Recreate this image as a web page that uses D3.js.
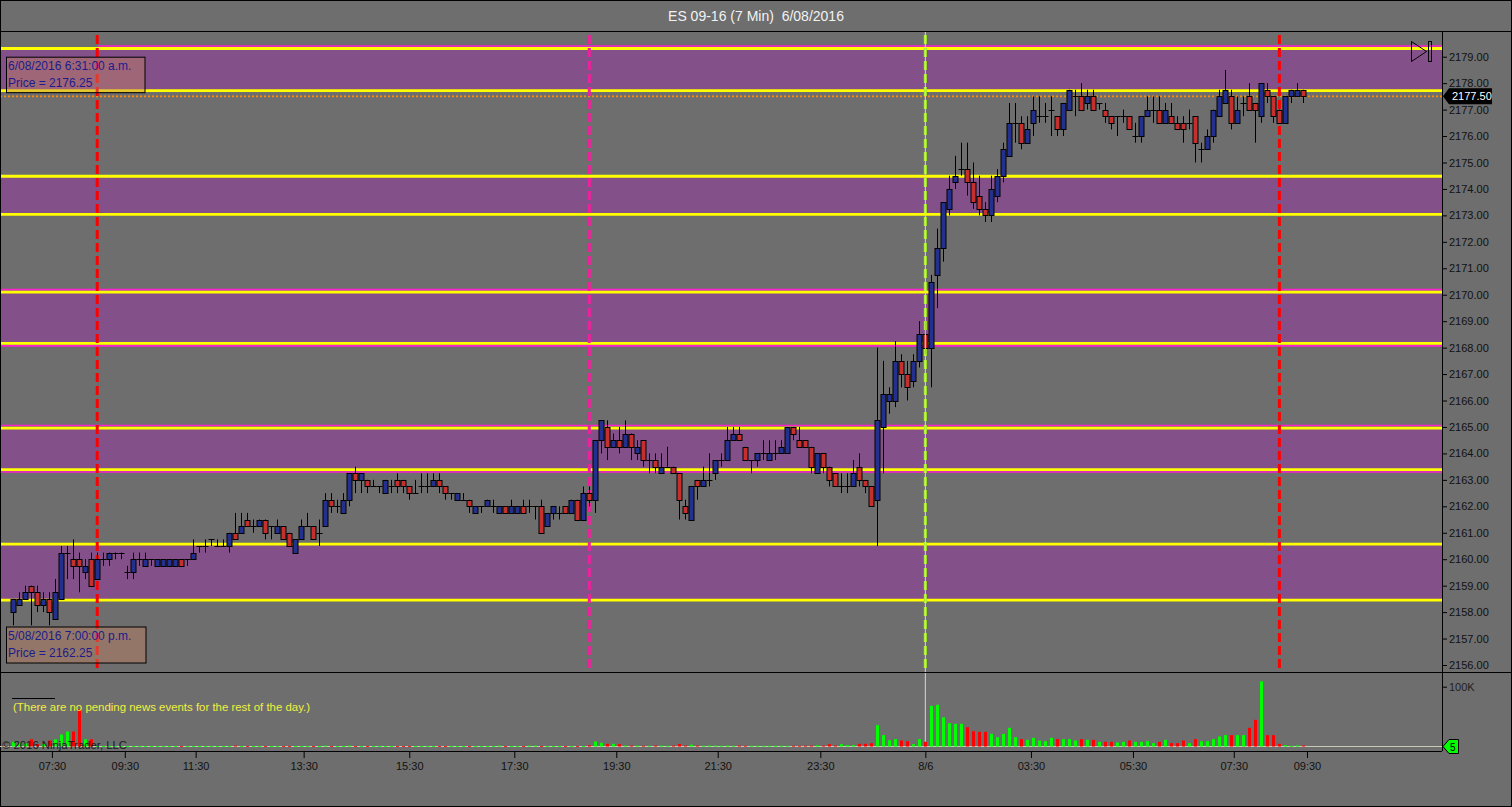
<!DOCTYPE html>
<html><head><meta charset="utf-8">
<script src="https://cdn.jsdelivr.net/npm/d3@7"></script>
<style>html,body{margin:0;padding:0;background:#6e6e6e;overflow:hidden}svg{display:block}</style>
</head><body>
<script>
// ---------------- DATA ----------------
const title = "ES 09-16 (7 Min)  6/08/2016";
// [open, high, low, close] per 7-min bar
const ohlc = [
[2158.0,2158.5,2157.5,2158.5],[2158.25,2158.75,2158.25,2158.5],[2158.5,2159.0,2158.5,2158.75],[2159.0,2159.0,2157.5,2158.75],
[2158.75,2159.0,2158.0,2158.25],[2158.25,2158.75,2158.0,2158.5],[2158.5,2158.75,2157.5,2158.0],[2157.75,2159.25,2157.75,2158.75],
[2158.5,2160.5,2158.5,2160.25],[2160.25,2160.5,2159.25,2160.25],[2160.0,2160.75,2159.25,2159.75],[2160.0,2160.25,2158.75,2159.75],
[2159.5,2160.0,2159.25,2159.75],[2160.0,2160.25,2159.0,2159.0],[2159.25,2160.25,2159.25,2160.0],[2160.0,2160.25,2159.75,2160.0],
[2160.0,2160.25,2159.75,2160.25],[2160.25,2160.25,2160.0,2160.25],[2160.25,2160.25,2160.0,2160.25],[2159.5,2159.75,2159.25,2159.5],
[2159.5,2160.25,2159.25,2160.0],[2160.0,2160.25,2159.75,2160.0],[2159.75,2160.25,2159.75,2160.0],[2160.0,2160.0,2159.75,2160.0],
[2159.75,2160.0,2159.75,2160.0],[2159.75,2160.0,2159.75,2160.0],[2159.75,2160.0,2159.75,2160.0],[2159.75,2160.0,2159.75,2160.0],
[2160.0,2160.0,2159.75,2159.75],[2160.0,2160.0,2159.75,2160.0],[2160.0,2160.75,2160.0,2160.25],[2160.5,2160.5,2160.25,2160.5],
[2160.5,2160.75,2160.25,2160.5],[2160.75,2160.75,2160.5,2160.75],[2160.5,2160.75,2160.5,2160.5],[2160.5,2160.75,2160.5,2160.5],
[2160.5,2161.0,2160.25,2161.0],[2161.0,2161.75,2160.75,2160.75],[2161.0,2161.75,2161.0,2161.25],[2161.5,2161.75,2161.25,2161.25],
[2161.25,2161.5,2161.0,2161.25],[2161.25,2161.5,2161.25,2161.5],[2161.5,2161.5,2160.75,2161.0],[2161.25,2161.25,2160.75,2161.25],
[2161.0,2161.5,2161.0,2161.25],[2161.25,2161.25,2160.75,2160.75],[2161.0,2161.0,2160.5,2160.5],[2160.25,2160.75,2160.25,2160.75],
[2160.75,2161.5,2160.75,2161.25],[2161.25,2161.75,2161.25,2161.25],[2161.25,2161.25,2160.75,2160.75],[2161.0,2161.5,2160.5,2161.0],
[2161.25,2162.5,2161.25,2162.25],[2162.25,2162.5,2161.75,2162.0],[2162.0,2162.25,2161.75,2162.0],[2161.75,2162.5,2161.75,2162.25],
[2162.25,2163.25,2162.0,2163.25],[2163.25,2163.5,2162.5,2163.0],[2163.0,2163.25,2162.5,2163.25],[2163.0,2163.0,2162.5,2162.75],
[2162.75,2163.0,2162.75,2162.75],[2162.75,2162.75,2162.5,2162.75],[2162.5,2163.0,2162.5,2163.0],[2162.75,2163.0,2162.5,2162.75],
[2163.0,2163.25,2162.5,2162.75],[2163.0,2163.0,2162.5,2162.75],[2162.75,2162.75,2162.25,2162.5],[2162.5,2163.0,2162.5,2162.5],
[2162.75,2163.25,2162.5,2162.75],[2162.75,2163.25,2162.5,2162.75],[2162.75,2163.25,2162.75,2163.0],[2163.0,2163.25,2162.5,2162.75],
[2162.75,2162.75,2162.25,2162.5],[2162.5,2162.5,2162.25,2162.5],[2162.25,2162.5,2162.25,2162.5],[2162.25,2162.5,2162.25,2162.25],
[2162.25,2162.25,2161.75,2162.0],[2161.75,2162.0,2161.75,2162.0],[2162.0,2162.0,2161.75,2162.0],[2162.0,2162.25,2162.0,2162.25],
[2162.0,2162.25,2161.75,2162.0],[2161.75,2162.0,2161.75,2162.0],[2162.0,2162.0,2161.75,2161.75],[2161.75,2162.25,2161.75,2162.0],
[2161.75,2162.0,2161.75,2162.0],[2162.0,2162.25,2161.75,2161.75],[2162.0,2162.25,2161.75,2162.0],[2162.0,2162.0,2161.5,2162.0],
[2162.0,2162.25,2161.0,2161.0],[2161.25,2161.75,2161.25,2161.75],[2161.75,2162.0,2161.5,2162.0],[2161.75,2162.0,2161.5,2161.75],
[2162.0,2162.0,2161.75,2161.75],[2161.75,2162.25,2161.75,2162.25],[2162.25,2162.25,2161.5,2161.5],[2161.5,2162.75,2161.5,2162.5],
[2162.5,2162.75,2162.0,2162.25],[2162.25,2164.5,2161.75,2164.5],[2164.5,2165.25,2164.0,2165.25],[2165.0,2165.25,2163.75,2164.25],
[2164.25,2164.75,2164.25,2164.5],[2164.5,2165.0,2164.0,2164.25],[2164.25,2165.25,2164.25,2164.75],[2164.75,2164.75,2163.75,2164.25],
[2164.0,2164.5,2163.75,2164.25],[2164.5,2164.5,2163.5,2163.75],[2163.75,2164.0,2163.25,2163.75],[2163.75,2164.0,2163.25,2163.5],
[2163.25,2164.0,2163.25,2163.5],[2163.5,2164.25,2163.5,2163.5],[2163.5,2163.5,2163.25,2163.25],[2163.25,2163.25,2161.5,2162.25],
[2162.0,2162.25,2161.5,2161.75],[2161.5,2162.75,2161.5,2162.75],[2163.0,2163.0,2162.25,2162.75],[2162.75,2163.5,2162.75,2163.0],
[2163.0,2164.0,2162.75,2163.0],[2163.25,2163.75,2163.0,2163.75],[2163.75,2164.0,2163.5,2163.75],[2163.75,2165.0,2163.75,2164.5],
[2164.5,2165.0,2164.5,2164.75],[2164.75,2165.0,2164.5,2164.5],[2164.25,2164.25,2163.75,2163.75],[2163.75,2163.75,2163.25,2163.75],
[2163.75,2164.0,2163.5,2164.0],[2164.0,2164.5,2163.75,2164.0],[2163.75,2164.5,2163.75,2164.0],[2164.0,2164.5,2163.75,2164.0],
[2164.0,2164.5,2164.0,2164.25],[2164.0,2165.0,2164.0,2165.0],[2165.0,2165.0,2164.5,2164.75],[2164.5,2165.0,2164.25,2164.25],
[2164.5,2164.5,2164.25,2164.25],[2164.25,2164.25,2163.25,2163.5],[2163.25,2164.0,2163.25,2164.0],[2164.0,2164.0,2163.25,2163.5],
[2163.5,2163.5,2162.75,2163.0],[2163.25,2163.25,2162.75,2162.75],[2162.75,2163.25,2162.5,2162.75],[2162.75,2163.25,2162.5,2162.75],
[2162.75,2163.75,2162.75,2163.25],[2163.5,2164.0,2162.75,2163.0],[2163.0,2163.0,2162.5,2162.75],[2162.75,2162.75,2162.0,2162.0],
[2162.25,2168.0,2160.5,2165.25],[2165.0,2167.5,2163.25,2166.25],[2166.0,2166.5,2165.5,2166.25],[2166.0,2168.25,2165.75,2167.5],
[2167.5,2167.75,2166.5,2167.0],[2167.0,2167.5,2166.0,2166.5],[2166.75,2167.75,2166.5,2167.5],[2167.5,2169.0,2167.25,2168.5],
[2168.5,2169.0,2167.75,2168.0],[2168.0,2170.75,2166.5,2170.5],[2170.75,2172.5,2169.5,2171.75],[2171.75,2173.5,2171.25,2173.5],
[2173.25,2174.5,2173.0,2174.0],[2174.25,2175.25,2174.0,2174.5],[2174.75,2175.75,2174.5,2174.75],[2174.75,2175.75,2173.75,2174.25],
[2174.25,2175.0,2173.25,2173.5],[2173.75,2174.5,2173.0,2173.25],[2173.25,2173.5,2172.75,2173.0],[2173.0,2174.5,2172.75,2174.0],
[2173.75,2174.75,2173.5,2174.5],[2174.5,2175.75,2174.25,2175.5],[2175.25,2177.25,2175.25,2176.5],[2176.5,2177.25,2175.75,2176.5],
[2176.5,2176.75,2175.5,2175.75],[2175.75,2176.75,2175.75,2176.25],[2176.5,2177.5,2176.0,2177.0],[2176.75,2177.5,2176.5,2176.75],
[2176.75,2177.25,2176.5,2176.75],[2177.0,2177.5,2176.0,2177.0],[2176.75,2176.75,2176.0,2176.25],[2176.25,2177.25,2176.0,2177.25],
[2177.0,2177.75,2177.0,2177.75],[2177.5,2177.75,2176.75,2177.5],[2177.5,2178.0,2177.0,2177.0],[2177.25,2177.75,2177.0,2177.5],
[2177.5,2177.75,2177.0,2177.0],[2177.25,2177.25,2177.0,2177.25],[2177.0,2177.25,2176.5,2176.75],[2176.75,2176.75,2176.25,2176.5],
[2176.75,2176.75,2176.0,2176.75],[2176.75,2177.0,2176.5,2176.75],[2176.75,2176.75,2176.25,2176.25],[2176.0,2176.5,2175.75,2176.0],
[2176.0,2176.75,2175.75,2176.75],[2176.75,2177.5,2176.75,2177.0],[2177.0,2177.5,2176.5,2177.0],[2177.0,2177.5,2176.5,2176.5],
[2176.5,2177.25,2176.5,2177.0],[2176.75,2177.25,2176.5,2176.5],[2176.5,2176.75,2176.25,2176.25],[2176.5,2176.75,2175.75,2176.25],
[2176.5,2177.0,2176.25,2176.5],[2176.75,2176.75,2175.0,2175.75],[2175.5,2175.75,2175.0,2175.5],[2175.5,2176.25,2175.5,2176.0],
[2176.0,2177.0,2175.75,2177.0],[2176.75,2177.75,2176.75,2177.5],[2177.25,2178.5,2177.25,2177.75],[2177.5,2177.75,2176.25,2176.5],
[2176.5,2177.5,2176.5,2177.0],[2177.25,2177.5,2176.75,2177.25],[2177.5,2178.0,2177.0,2177.0],[2177.25,2177.25,2175.75,2177.0],
[2176.75,2178.0,2176.5,2178.0],[2177.75,2178.0,2177.25,2177.5],[2177.5,2177.5,2176.5,2176.75],[2177.0,2177.0,2176.5,2176.5],
[2176.5,2177.5,2176.5,2177.5],[2177.5,2177.75,2177.25,2177.75],[2177.5,2178.0,2177.5,2177.75],[2177.75,2177.75,2177.25,2177.5]
];
// volume per bar, thousands of contracts
const volumes = [
8,6,5,12,4,4,10,12,20,25,25,62,12,12,
0.6,0.6,0.6,0.6,0.6,0.6,0.6,0.6,0.6,0.6,0.6,0.6,0.6,0.6,0.6,0.6,
0.6,0.6,0.6,0.6,0.6,0.6,0.6,1.5,0.6,0.6,0.6,0.6,0.6,0.6,0.6,0.6,
0.6,0.6,0.6,0.6,0.6,0.6,1.5,0.6,0.6,0.6,1.5,0.6,0.6,0.6,0.6,0.6,
0.6,0.6,0.6,0.6,0.6,0.6,0.6,0.6,0.6,0.6,0.6,0.6,0.6,0.6,0.6,0.6,
0.6,0.6,0.6,1.5,0.6,0.6,0.6,0.6,1.5,1.5,0.6,0.6,0.6,0.6,0.6,0.6,
0.6,0.6,
2,8.4,6,4.5,4.5,3.9,1.5,1.5,1.5,1.2,1.2,1.5,1.5,1.2,1.5,4,
1.5,3,1.5,1.2,1.5,1.5,1.2,1.5,1.2,1.5,1.2,1.2,1.2,1.2,1.2,1.2,
1.2,1.2,1.2,1.2,1.2,1.5,2,1.5,3.9,1.5,3.9,2.2,2.2,4.5,4.5,5.6,
35.7,19,10.6,12.3,10,8.9,3.9,12.3,7.8,68,69.7,49,39,38,38,32.3,
25.6,24.5,24.5,21.2,15.6,21.2,31.2,15.6,12.3,11.1,14.5,10,8.9,14.5,12.3,12.3,
12.3,10,12.3,11.1,11.1,7.8,7.8,7.8,6.7,7.8,10,7.8,7.8,8.9,5.6,7.8,
11.1,5.6,5.6,10,5.6,12.3,8.9,8.9,12.3,16.7,19,19,19,19,31.2,44.6,
109,19,19,4.5,2.2,1,1.7,1.7
];
const priceTicks = d3.range(2156, 2180, 1);
const timeTickLabels = ["07:30","09:30","11:30","13:30","15:30","17:30","19:30","21:30","23:30","8/6","03:30","05:30","07:30","09:30"];
const timeTickBars   = [6.45,18.6,30.4,48.4,66.0,83.5,100.5,117.4,134.5,152,169.6,186.6,203.4,215.6];
// zones [top price, bottom price]
const zoneTops    = [2179.31, 2174.48, 2170.10, 2164.96, 2160.57];
const zoneBottoms = [2177.72, 2173.04, 2168.16, 2163.39, 2158.45];
const zoneMagenta = [true, false, true, true, false];
const lastPrice = 2177.50;
const markerBars   = [14, 96, 152, 211];
const markerColors = ["#ff0000", "#f0209c", "#a6f020", "#ff0000"];
const noteLine1 = ["6/08/2016 6:31:00 a.m.", "5/08/2016 7:00:00 p.m."];
const noteLine2 = ["Price = 2176.25", "Price = 2162.25"];
const newsText = "(There are no pending news events for the rest of the day.)";
const copyright = "\u00A9 2016 NinjaTrader, LLC";

// ---------------- LAYOUT ----------------
const W = 1512, H = 807;
const plotR = 1442, priceTop = 32, priceBot = 672, volBot = 751;
const x = d3.scaleLinear().domain([-2.2, 238.1]).range([0, plotR]);
const y = d3.scaleLinear().domain([2156, 2179]).range([665, 56.7]);
const yv = d3.scaleLinear().domain([0, 100]).range([746.5, 686.7]);
const FONT = "'Liberation Sans', Arial, sans-serif";

const svg = d3.select("body").append("svg").attr("width", W).attr("height", H)
  .style("font-family", FONT);
svg.append("rect").attr("width", W).attr("height", H).attr("fill", "#6e6e6e");

svg.append("defs").append("clipPath").attr("id", "pclip")
  .append("rect").attr("x", 0).attr("y", priceTop).attr("width", plotR).attr("height", priceBot - priceTop);

// title
svg.append("text").attr("x", 756).attr("y", 21).attr("text-anchor", "middle")
  .attr("fill", "#f2f2f2").attr("font-size", 14).attr("xml:space","preserve").text(title);

const pg = svg.append("g").attr("clip-path", "url(#pclip)");

// zones
zoneTops.forEach((t, k) => {
  const b = zoneBottoms[k];
  pg.append("rect").attr("x", 0).attr("width", plotR).attr("y", y(t)).attr("height", y(b) - y(t)).attr("fill", "#83508a");
  if (zoneMagenta[k]) {
    const x0 = k === 0 ? x(markerBars[0]) : 0;
    pg.append("line").attr("x1", x0).attr("x2", plotR).attr("y1", y(t) - 2.5).attr("y2", y(t) - 2.5).attr("stroke", "#ff20d0").attr("stroke-width", 1.6);
    if (k !== 0) pg.append("line").attr("x1", 0).attr("x2", plotR).attr("y1", y(b) + 2.5).attr("y2", y(b) + 2.5).attr("stroke", "#ff20d0").attr("stroke-width", 1.6);
  }
  [t, b].forEach(p => pg.append("line").attr("x1", 0).attr("x2", plotR).attr("y1", y(p)).attr("y2", y(p))
    .attr("stroke", "#ffff00").attr("stroke-width", 2.8));
});

// last price dotted line
pg.append("line").attr("x1", 0).attr("x2", plotR).attr("y1", y(lastPrice)).attr("y2", y(lastPrice))
  .attr("stroke", "#ff8c00").attr("stroke-width", 1.6).attr("stroke-dasharray", "2,2");

// light day-break line
svg.append("line").attr("x1", x(markerBars[2])).attr("x2", x(markerBars[2])).attr("y1", priceTop).attr("y2", 746)
  .attr("stroke", "#d8d8d8").attr("stroke-width", 1);

// vertical dashed markers
markerBars.forEach((b, k) => {
  pg.append("line").attr("x1", x(b)).attr("x2", x(b)).attr("y1", 35).attr("y2", 668)
    .attr("stroke", markerColors[k]).attr("stroke-width", 3).attr("stroke-dasharray", "9,4");
});

// candles
const cg = pg.append("g");
ohlc.forEach((d, i) => {
  const [o, h, l, c] = d;
  const cx = Math.round(x(i)) + 0.5;
  cg.append("line").attr("x1", cx).attr("x2", cx).attr("y1", y(h)).attr("y2", y(l)).attr("stroke", "#000").attr("stroke-width", 1);
  if (o === c) {
    cg.append("line").attr("x1", cx - 3).attr("x2", cx + 3).attr("y1", Math.round(y(o)) + 0.5).attr("y2", Math.round(y(o)) + 0.5)
      .attr("stroke", "#000").attr("stroke-width", 1);
  } else {
    const top = Math.round(y(Math.max(o, c))), bot = Math.round(y(Math.min(o, c)));
    cg.append("rect").attr("x", cx - 2.5).attr("y", top + 0.5).attr("width", 5).attr("height", Math.max(1, bot - top))
      .attr("fill", c > o ? "#24308e" : "#c4302e").attr("stroke", "#000").attr("stroke-width", 1);
  }
});

// notes boxes
const noteBoxes = [{x: 6, y: 56.7, w: 138.5, h: 35.5}, {x: 6, y: 626.5, w: 139.5, h: 36}];
noteBoxes.forEach((b, k) => {
  svg.append("rect").attr("x", b.x + 0.5).attr("y", b.y + 0.5).attr("width", b.w).attr("height", b.h)
    .attr("fill", "#c08060").attr("fill-opacity", 0.45).attr("stroke", "#000").attr("stroke-width", 1);
  svg.append("text").attr("x", b.x + 2).attr("y", b.y + 13).attr("fill", "#1c1c8c").attr("font-size", 12).text(noteLine1[k]);
  svg.append("text").attr("x", b.x + 2).attr("y", b.y + 30).attr("fill", "#1c1c8c").attr("font-size", 12).text(noteLine2[k]);
});

// top-right icon
svg.append("path").attr("d", "M1411.5,41.5 L1426.5,51.5 L1411.5,61.5 Z").attr("fill", "none").attr("stroke", "#000");
svg.append("rect").attr("x", 1428.5).attr("y", 41.5).attr("width", 3).attr("height", 20).attr("fill", "none").attr("stroke", "#000");

// panel frames
svg.append("line").attr("x1", plotR + 0.5).attr("x2", plotR + 0.5).attr("y1", priceTop).attr("y2", volBot).attr("stroke", "#000");
svg.append("line").attr("x1", 0).attr("x2", W).attr("y1", priceBot + 0.5).attr("y2", priceBot + 0.5).attr("stroke", "#000");
svg.append("line").attr("x1", 0).attr("x2", plotR).attr("y1", volBot + 0.5).attr("y2", volBot + 0.5).attr("stroke", "#000");
svg.append("line").attr("x1", 0).attr("x2", W).attr("y1", priceTop - 0.5).attr("y2", priceTop - 0.5).attr("stroke", "#000");
svg.append("rect").attr("x", 0.5).attr("y", 0.5).attr("width", W - 1).attr("height", H - 1).attr("fill", "none").attr("stroke", "#000");

// price axis
const pax = svg.append("g").attr("transform", `translate(${plotR},0)`)
  .call(d3.axisRight(y).tickValues(priceTicks).tickSize(5).tickPadding(2).tickFormat(d3.format(".2f")));
pax.select(".domain").remove();
pax.selectAll("line").attr("stroke", "#000");
pax.selectAll("text").attr("fill", "#111").attr("font-size", 11).attr("font-family", FONT);

// last price tag
const ly = y(lastPrice);
svg.append("path").attr("d", `M${plotR + 1},${ly} L${plotR + 7},${ly - 8} L1492,${ly - 8} L1492,${ly + 8} L${plotR + 7},${ly + 8} Z`).attr("fill", "#000");
svg.append("text").attr("x", 1452).attr("y", ly + 4).attr("fill", "#fff").attr("font-size", 11).text(d3.format(".2f")(lastPrice));

// volume bars
svg.append("line").attr("x1", 0).attr("x2", plotR).attr("y1", 746.5).attr("y2", 746.5).attr("stroke", "#c8c8b8").attr("stroke-width", 1);
volumes.forEach((v, i) => {
  const d = ohlc[i];
  const cx = Math.round(x(i));
  svg.append("rect").attr("x", cx - 1).attr("width", 3).attr("y", yv(v)).attr("height", Math.max(0.8, yv(0) - yv(v)))
    .attr("fill", d[3] >= d[0] ? "#00ff00" : "#ff0000");
});
const vax = svg.append("g").attr("transform", `translate(${plotR},0)`)
  .call(d3.axisRight(yv).tickValues([100]).tickSize(5).tickPadding(2).tickFormat(d => d + "K"));
vax.select(".domain").remove();
vax.selectAll("line").attr("stroke", "#000");
vax.selectAll("text").attr("fill", "#222").attr("font-size", 11).attr("font-family", FONT);
// volume tag
svg.append("path").attr("d", `M${plotR + 1},746.5 L${plotR + 7},739.5 L1458.5,739.5 L1458.5,753.5 L${plotR + 7},753.5 Z`)
  .attr("fill", "#00ff00").attr("stroke", "#000");
svg.append("text").attr("x", 1450).attr("y", 750.5).attr("fill", "#000").attr("font-size", 10).text("5");

// news text
svg.append("line").attr("x1", 12).attr("x2", 55).attr("y1", 698.5).attr("y2", 698.5).attr("stroke", "#000");
svg.append("text").attr("x", 13).attr("y", 711).attr("fill", "#f0f040").attr("font-size", 11)
  .attr("textLength", 297).attr("lengthAdjust", "spacingAndGlyphs").text(newsText);
svg.append("text").attr("x", 2).attr("y", 749).attr("fill", "#1a1a1a").attr("font-size", 11)
  .attr("textLength", 125).attr("lengthAdjust", "spacingAndGlyphs").text(copyright);

// time axis
const tax = svg.append("g").attr("transform", `translate(0,${volBot + 1})`)
  .call(d3.axisBottom(x).tickValues(timeTickBars).tickSize(6).tickPadding(4).tickFormat((d, k) => timeTickLabels[k]));
tax.select(".domain").remove();
tax.selectAll("line").attr("stroke", "#000");
tax.selectAll("text").attr("fill", "#111").attr("font-size", 11).attr("font-family", FONT);
</script>
</body></html>
